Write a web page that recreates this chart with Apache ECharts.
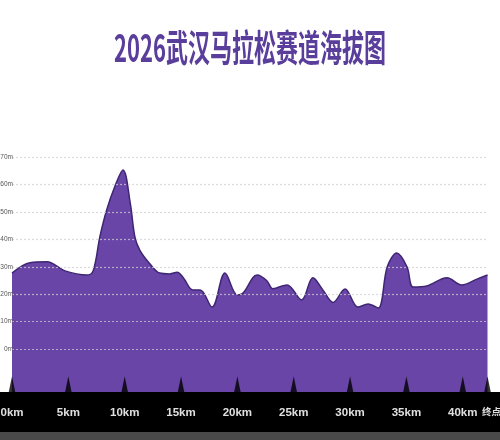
<!DOCTYPE html>
<html><head><meta charset="utf-8">
<script src="https://cdn.jsdelivr.net/npm/echarts@6/dist/echarts.min.js"></script>
<style>html,body{margin:0;padding:0;background:#fff}#c{width:500px;height:440px}</style>
</head><body><div id="c"></div>
<script>
const titleText = '2026武汉马拉松赛道海拔图';
const distanceKm = [0, 1.6, 3.1, 4.7, 6.65, 7.2, 7.8, 8.4, 9.1, 9.85, 10.5, 10.9, 11.35, 12.25, 13.1, 14.0, 14.65, 15.2, 16.05, 16.7, 17.75, 18.9, 20.0, 20.5, 21.75, 22.6, 23.15, 24.4, 25.7, 26.7, 27.6, 28.5, 29.55, 30.7, 31.6, 32.5, 33.3, 34.15, 35.05, 35.6, 36.8, 38.6, 39.9, 41.25, 42.195];
const elevationM = [27.7, 31.5, 31.8, 28.5, 27, 28.5, 41, 50.7, 59, 65.3, 53, 41, 36, 31, 27.7, 27.4, 28, 26, 21.5, 21.5, 15.3, 27.7, 19.7, 20.4, 27, 25, 22, 23.4, 17.9, 26, 21.5, 17, 21.9, 15.3, 16.4, 15, 30, 35, 30, 22.6, 23, 26, 23.4, 25.5, 27];
const markerKm = [0, 5, 10, 15, 20, 25, 30, 35, 40, 42.195];
const markerLabels = ['0km', '5km', '10km', '15km', '20km', '25km', '30km', '35km', '40km', '终点'];
const yTicks = [-20, -10, 0, 10, 20, 30, 40, 50, 60, 70];

const chart = echarts.init(document.getElementById('c'), null, {renderer: 'canvas'});
const gridCol = 'rgba(205,205,210,0.75)';
const yMin = yTicks[0], yMax = yTicks[yTicks.length - 1];
const triY = yMin + 7;
const lastIdx = markerKm.length - 1;
const xMax = distanceKm[distanceKm.length - 1];
const labelFor = v => { const i = markerKm.findIndex(k => Math.abs(k - v) < 1e-6); return i >= 0 ? markerLabels[i] : ''; };
const baseX = {
  type: 'value', min: 0, max: xMax, z: 20, position: 'bottom',
  axisLine: {show: false}, axisTick: {show: false}, splitLine: {show: false}
};
chart.setOption({
  backgroundColor: '#fff',
  animation: false,
  grid: {left: 12, right: 12.5, top: 157, bottom: 36, containLabel: false, outerBoundsMode: 'none'},
  xAxis: [
    Object.assign({}, baseX, {
      axisLabel: {
        customValues: markerKm.slice(0, lastIdx), margin: 3, color: '#e0e0e0', fontSize: 11.5, fontWeight: 'bold',
        hideOverlap: false, fontFamily: 'Liberation Sans, Arial, sans-serif', formatter: labelFor
      }
    }),
    Object.assign({}, baseX, {
      axisLabel: {
        customValues: [markerKm[lastIdx]], margin: 3, color: '#e0e0e0', fontSize: 9.5, fontWeight: 'bold',
        padding: [0, 0, 0, 8],
        hideOverlap: false, fontFamily: '"Noto Sans CJK SC", sans-serif', formatter: labelFor
      }
    })
  ],
  yAxis: {
    type: 'value', min: yMin, max: yMax, interval: 10, z: 4,
    axisLine: {show: false}, axisTick: {show: false},
    axisLabel: {margin: -1, color: '#555', fontSize: 6.5, fontFamily: 'Liberation Sans, Arial, sans-serif',
      formatter: v => v < 0 ? '' : v + 'm'},
    splitLine: {show: true, lineStyle: {type: [2, 2], width: 1.2,
      color: yTicks.map(t => t < 0 ? 'rgba(0,0,0,0)' : gridCol)}}
  },
  graphic: [
    {type: 'rect', z: 10, shape: {x: 0, y: 392, width: 500, height: 40}, style: {fill: '#000'}},
    {type: 'rect', z: 10, shape: {x: 0, y: 432, width: 500, height: 8}, style: {fill: '#4a4a4a'}},
    {type: 'text', z: 10, x: 250, y: 48, scaleY: 1.7, originX: 0, originY: 0,
      style: {text: titleText, fill: '#5a3e9b', font: 'bold 22px "Noto Sans CJK SC", sans-serif',
        align: 'center', verticalAlign: 'middle', stroke: '#fff', lineWidth: 1}}
  ],
  series: [
    {type: 'line', z: 2, smooth: 0.35, symbol: 'none',
      data: distanceKm.map((d, i) => [d, elevationM[i]]),
      lineStyle: {color: '#3e2673', width: 1.5},
      areaStyle: {color: '#6a45a8', opacity: 1, origin: 'start'}},
    {type: 'scatter', z: 3, symbol: 'triangle', symbolSize: [7, 17], silent: true,
      itemStyle: {color: '#000'},
      data: markerKm.map(k => [k, triY])}
  ]
});
</script></body></html>
